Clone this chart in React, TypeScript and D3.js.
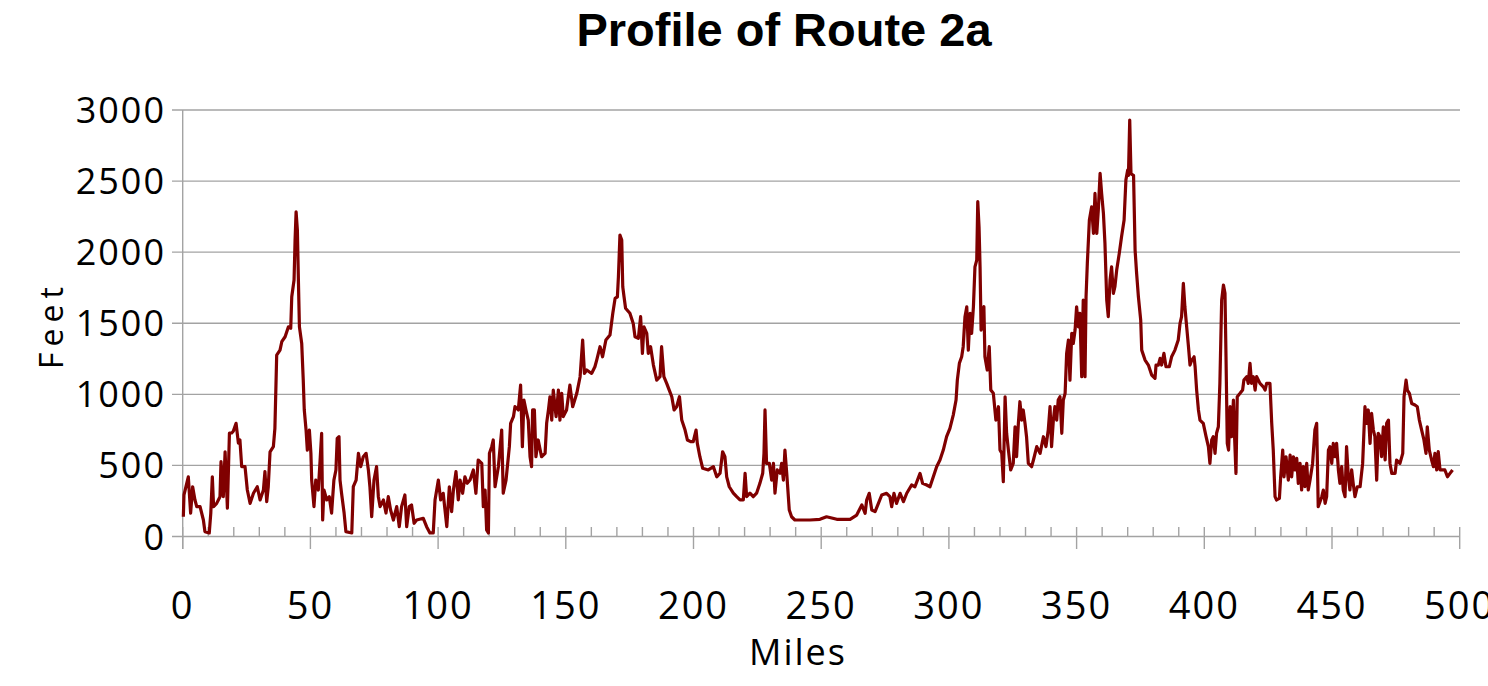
import React from "react";
import * as d3 from "d3";

// elevation profile (miles, feet)
const miles = [
  0.25, 0.5, 2.2, 3.1, 3.9, 4.8, 5.5, 6.8, 8.1, 8.7, 10.4, 11.0, 11.6, 12.1, 13.3, 14.6, 15.0, 15.9, 16.6, 17.5,
  18.3, 19.2, 19.8, 20.9, 21.8, 22.4, 23.1, 24.4, 25.3, 26.4, 27.7, 29.2, 30.3, 31.6, 32.2, 32.9, 33.5, 34.2, 35.5, 36.1,
  36.5, 36.8, 38.1, 38.8, 40.1, 41.4, 42.3, 42.7, 43.6, 44.0, 44.4, 44.9, 45.3, 45.7, 46.6, 47.2, 47.6, 48.3, 48.8, 49.6,
  50.2, 50.5, 51.4, 52.1, 53.1, 53.8, 54.4, 54.8, 55.3, 56.4, 57.4, 58.3, 59.2, 60.0, 60.5, 61.2, 61.6, 62.2, 63.2, 63.9,
  66.2, 66.8, 67.9, 68.8, 69.7, 70.7, 71.8, 72.7, 73.3, 74.0, 74.9, 75.9, 76.6, 77.3, 78.6, 79.6, 80.5, 81.4, 82.5, 83.8,
  84.8, 85.7, 87.0, 87.7, 88.7, 89.6, 90.6, 91.6, 94.2, 95.5, 96.8, 98.1, 98.8, 100.1, 101.0, 102.0, 103.4, 104.4, 105.3, 106.0,
  107.0, 107.9, 108.6, 109.6, 110.5, 111.4, 112.5, 113.8, 114.8, 115.7, 117.1, 117.7, 118.4, 119.0, 119.7, 120.1, 121.0, 121.6, 122.3, 123.6,
  124.9, 125.5, 126.6, 127.9, 128.4, 129.5, 130.1, 131.4, 132.3, 133.0, 133.6, 134.4, 135.3, 136.0, 136.6, 137.0, 137.7, 138.3, 139.2, 140.5,
  141.9, 142.5, 143.2, 143.8, 144.5, 145.1, 146.2, 147.1, 147.7, 148.4, 149.0, 150.3, 151.6, 152.7, 154.3, 155.6, 156.6, 157.3, 158.2, 160.1,
  161.4, 162.1, 163.4, 164.4, 165.7, 167.3, 168.4, 169.3, 170.2, 170.6, 171.2, 171.9, 172.3, 172.8, 173.4, 175.1, 176.4, 177.1, 178.4, 179.3,
  180.0, 180.6, 181.7, 182.3, 183.2, 184.3, 185.6, 186.9, 187.5, 188.4, 189.5, 190.5, 191.5, 192.4, 193.4, 194.5, 195.4, 196.7, 197.6, 198.9,
  199.9, 201.0, 201.5, 202.5, 203.6, 205.8, 207.8, 209.1, 210.4, 211.4, 212.3, 213.0, 214.0, 215.6, 216.9, 218.2, 219.5, 220.2, 220.8, 222.1,
  223.4, 224.7, 226.0, 227.1, 227.6, 228.0, 228.6, 229.7, 230.6, 231.3, 231.9, 232.8, 233.9, 234.5, 235.2, 235.8, 236.5, 237.5, 238.4, 239.7,
  245.6, 249.5, 252.1, 256.1, 261.3, 263.9, 265.9, 267.2, 267.8, 268.8, 269.8, 271.1, 272.4, 273.7, 275.6, 276.9, 277.6, 278.5, 279.5, 280.9,
  282.2, 283.5, 285.4, 286.7, 288.7, 289.7, 291.3, 292.6, 293.9, 295.2, 296.5, 297.8, 299.1, 300.4, 301.7, 302.8, 303.3, 304.1, 305.0, 305.6,
  306.3, 307.0, 307.6, 308.3, 308.9, 309.6, 310.2, 310.9, 311.3, 311.8, 312.2, 312.6, 313.2, 313.7, 314.1, 315.0, 315.8, 316.4, 317.4, 318.4,
  319.4, 320.0, 320.7, 321.3, 322.0, 322.6, 323.3, 324.2, 325.2, 325.9, 326.5, 327.2, 327.8, 328.5, 329.1, 329.8, 330.4, 331.1, 332.4, 333.1,
  334.4, 335.7, 337.0, 338.0, 338.9, 339.6, 340.2, 340.9, 341.5, 342.2, 342.8, 343.5, 344.2, 344.8, 345.5, 346.1, 346.8, 347.4, 348.1, 348.7,
  349.4, 350.0, 350.7, 351.3, 352.0, 352.6, 353.3, 353.7, 354.2, 355.0, 355.9, 356.6, 357.2, 357.9, 358.5, 359.2, 359.8, 360.5, 361.1, 361.8,
  362.4, 363.1, 363.7, 364.4, 365.0, 365.7, 366.7, 367.6, 368.6, 369.3, 370.0, 370.3, 370.8, 371.3, 372.3, 372.9, 373.5, 374.2, 375.1, 375.5,
  376.8, 378.1, 379.4, 380.7, 381.1, 382.0, 382.7, 383.3, 384.2, 385.0, 386.3, 387.2, 388.5, 389.8, 390.5, 391.1, 391.8, 392.4, 393.1, 393.8,
  394.4, 395.1, 396.0, 396.4, 397.0, 397.7, 398.3, 399.6, 400.7, 401.6, 402.2, 402.9, 403.5, 404.2, 404.8, 405.5, 406.1, 406.8, 407.5, 408.1,
  408.5, 409.0, 409.5, 410.1, 410.7, 411.4, 411.9, 412.4, 412.9, 414.0, 415.0, 415.5, 416.6, 417.2, 417.9, 418.5, 419.2, 419.9, 420.5, 421.8,
  423.1, 423.8, 424.4, 425.7, 426.4, 427.0, 427.7, 428.3, 429.4, 429.9, 430.7, 431.2, 432.0, 432.9, 433.6, 434.2, 434.9, 435.5, 436.2, 436.8,
  437.5, 438.1, 438.8, 439.4, 440.1, 440.7, 441.4, 442.4, 443.3, 444.0, 444.6, 446.0, 446.6, 447.3, 447.9, 448.6, 449.2, 449.9, 450.5, 451.2,
  451.8, 452.5, 453.1, 453.8, 454.4, 455.1, 455.7, 456.4, 457.0, 457.7, 458.3, 459.0, 459.9, 461.0, 462.0, 462.9, 463.6, 464.2, 464.9, 465.5,
  466.2, 466.8, 467.5, 468.1, 468.8, 469.4, 470.1, 470.8, 471.4, 472.1, 472.7, 473.4, 474.7, 475.3, 476.6, 477.7, 478.2, 479.0, 479.5, 480.3,
  481.2, 482.5, 483.4, 484.2, 485.1, 486.0, 486.8, 487.3, 488.1, 489.0, 489.7, 490.3, 491.0, 491.6, 492.3, 494.2, 495.2, 496.2, 497.2,
];
const feet = [
  139, 292, 420, 165, 350, 257, 210, 210, 116, 34, 25, 165, 420, 210, 233, 280, 526, 280, 596, 200,
  728, 728, 740, 796, 657, 680, 491, 491, 327, 233, 304, 350, 257, 327, 456, 245, 350, 596, 632, 761,
  1054, 1276, 1311, 1370, 1405, 1475, 1465, 1686, 1804, 2085, 2284, 2155, 1804, 1475, 1358, 1100, 890, 749, 608, 749,
  585, 397, 210, 397, 327, 538, 726, 116, 327, 257, 280, 165, 397, 468, 690, 702, 397, 304, 165, 34,
  25, 350, 397, 585, 491, 561, 585, 468, 350, 139, 397, 491, 280, 210, 257, 165, 280, 186, 116, 210,
  69, 210, 292, 69, 210, 222, 93, 116, 128, 69, 25, 25, 257, 397, 257, 304, 69, 350, 175, 327,
  456, 257, 397, 304, 420, 374, 397, 468, 304, 538, 514, 210, 327, 46, 25, 585, 632, 679, 350, 491,
  749, 305, 397, 632, 796, 843, 913, 890, 1065, 632, 960, 890, 819, 561, 491, 890, 890, 561, 679, 561,
  585, 796, 890, 983, 819, 1030, 843, 1030, 819, 1007, 843, 890, 1065, 913, 1007, 1124, 1382, 1147, 1171, 1147,
  1194, 1241, 1335, 1264, 1382, 1417, 1570, 1675, 1686, 1827, 2120, 2085, 1757, 1686, 1605, 1570, 1499, 1405, 1394, 1546,
  1288, 1475, 1429, 1288, 1335, 1206, 1100, 1124, 1335, 1124, 1077, 1030, 983, 890, 913, 983, 819, 749, 679, 667,
  667, 749, 655, 561, 480, 468, 491, 420, 445, 596, 561, 420, 350, 305, 280, 257, 257, 445, 280, 305,
  280, 305, 374, 445, 585, 890, 514, 514, 397, 514, 305, 468, 445, 514, 397, 608, 445, 186, 139, 116,
  116, 121, 139, 121, 121, 151, 222, 163, 257, 304, 186, 175, 233, 292, 304, 280, 210, 304, 233, 304,
  245, 304, 362, 350, 444, 374, 362, 350, 420, 491, 538, 608, 702, 761, 854, 960, 1100, 1218, 1264, 1335,
  1546, 1616, 1311, 1570, 1429, 1616, 1897, 1944, 2355, 2179, 1897, 1452, 1593, 1616, 1264, 1171, 1335, 1030, 1007, 819,
  913, 608, 585, 386, 983, 726, 608, 468, 514, 772, 561, 796, 948, 819, 890, 796, 702, 514, 491, 538,
  632, 585, 702, 632, 749, 913, 632, 819, 913, 819, 960, 983, 726, 960, 1007, 1288, 1382, 1100, 1429, 1358,
  1452, 1616, 1475, 1570, 1124, 1663, 1124, 1686, 1921, 2226, 2319, 2132, 2413, 2132, 2296, 2554, 2413, 2273, 2062, 1663,
  1546, 1804, 1897, 1710, 1757, 1874, 1991, 2108, 2226, 2507, 2577, 2540, 2929, 2550, 2540, 2015, 1851, 1686, 1522, 1311,
  1241, 1206, 1136, 1113, 1206, 1206, 1253, 1206, 1288, 1194, 1194, 1264, 1311, 1382, 1499, 1546, 1780, 1616, 1475, 1335,
  1206, 1241, 1264, 1194, 1030, 890, 819, 796, 702, 632, 515, 679, 702, 585, 726, 772, 1077, 1663, 1769, 1710,
  1264, 655, 608, 913, 702, 960, 679, 444, 983, 1007, 1030, 1100, 1124, 1077, 1218, 1077, 1124, 1030, 1124, 1077,
  1053, 1030, 1077, 1077, 796, 608, 280, 257, 268, 420, 608, 420, 561, 397, 573, 420, 561, 468, 550, 374,
  514, 327, 491, 350, 514, 327, 397, 514, 749, 796, 210, 280, 327, 233, 280, 608, 632, 514, 655, 561,
  655, 468, 374, 491, 327, 280, 632, 420, 327, 468, 374, 280, 350, 350, 514, 913, 796, 890, 655, 866,
  749, 702, 397, 726, 702, 561, 772, 538, 796, 819, 514, 444, 444, 538, 514, 585, 983, 1100, 1030, 1007,
  936, 925, 913, 819, 749, 679, 585, 772, 608, 538, 491, 585, 468, 597, 468, 468, 420, 444, 468,
];

const xTicks = [0, 50, 100, 150, 200, 250, 300, 350, 400, 450, 500];
const yTicks = [0, 500, 1000, 1500, 2000, 2500, 3000];

const W = 1488;
const H = 686;
const labelFont = "'Open Sans', 'DejaVu Sans', sans-serif";

export default function App() {
  const x = d3.scaleLinear().domain([0, 500]).range([182.7, 1459.7]);
  const y = d3.scaleLinear().domain([0, 3000]).range([536.5, 110]);
  const data = miles.map((m, i) => [m, feet[i]] as [number, number]);
  const line = d3
    .line<[number, number]>()
    .x((d) => x(d[0]))
    .y((d) => y(d[1]));
  const minor = d3.range(0, 501, 10).filter((d) => d % 50 !== 0);
  const grid = "#a3a3a3";

  return (
    <svg
      width={W}
      height={H}
      style={{ position: "absolute", left: 0, top: 0, background: "#fff" }}
    >
      <text
        x={784}
        y={46}
        textAnchor="middle"
        fontFamily="'Liberation Sans', Arial, sans-serif"
        fontWeight="bold"
        fontSize={47}
      >
        Profile of Route 2a
      </text>

      {yTicks.map((t) => (
        <g key={"y" + t}>
          <line x1={172} x2={1460} y1={y(t)} y2={y(t)} stroke={grid} strokeWidth={1.4} />
          <text
            x={166}
            y={y(t) + 13}
            textAnchor="end"
            fontFamily={labelFont}
            fontSize={36}
            letterSpacing={2}
          >
            {t}
          </text>
        </g>
      ))}

      <line x1={x(0)} x2={x(0)} y1={y(3000)} y2={549} stroke={grid} strokeWidth={1.4} />
      {minor.map((t) => (
        <line key={"m" + t} x1={x(t)} x2={x(t)} y1={527} y2={y(0)} stroke={grid} strokeWidth={1.4} />
      ))}
      {xTicks.map((t) => (
        <g key={"x" + t}>
          <line x1={x(t)} x2={x(t)} y1={527} y2={549} stroke={grid} strokeWidth={1.4} />
          <text
            x={x(t)}
            y={619}
            textAnchor="middle"
            fontFamily={labelFont}
            fontSize={38}
            letterSpacing={2}
          >
            {t}
          </text>
        </g>
      ))}

      <path
        d={line(data) || ""}
        fill="none"
        stroke="#800000"
        strokeWidth={3.2}
        strokeLinejoin="round"
      />

      <text
        x={798}
        y={665}
        textAnchor="middle"
        fontFamily={labelFont}
        fontSize={36}
        letterSpacing={2}
      >
        Miles
      </text>
      <text
        transform="translate(63,325) rotate(-90)"
        textAnchor="middle"
        fontFamily={labelFont}
        fontSize={32}
        letterSpacing={6}
      >
        Feet
      </text>
    </svg>
  );
}
